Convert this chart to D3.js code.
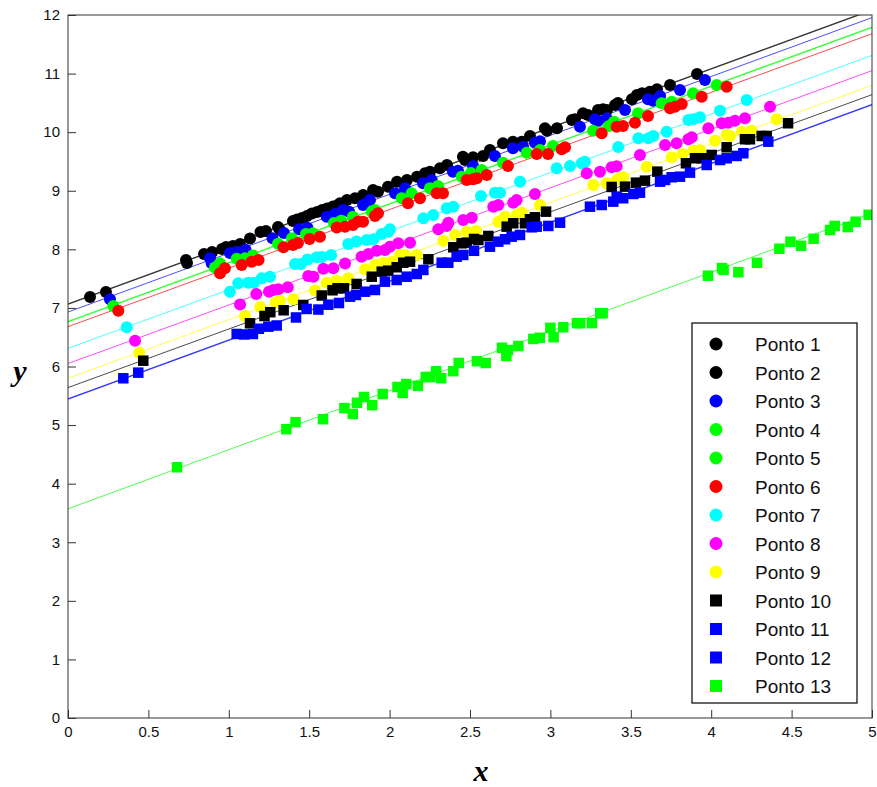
<!DOCTYPE html>
<html><head><meta charset="utf-8">
<script src="https://cdn.jsdelivr.net/npm/d3@7"></script>
<style>body{margin:0;background:#fff}svg{display:block}</style>
</head><body>
<svg id="c" width="877" height="787"></svg>
<script>
// ---- data ----
const seriesNames = ["Ponto 1","Ponto 2","Ponto 3","Ponto 4","Ponto 5","Ponto 6","Ponto 7","Ponto 8","Ponto 9","Ponto 10","Ponto 11","Ponto 12","Ponto 13"];
const seriesColors = ["#000000","#000000","#0000ff","#00ff00","#00ff00","#ff0000","#00ffff","#ff00ff","#ffff00","#000000","#0000ff","#0000ff","#00ff00"];
const seriesShapes = ["circle","circle","circle","circle","circle","circle","circle","circle","circle","square","square","square","square"];
const lineIntercepts = [7.07,7.06,6.93,6.77,6.76,6.68,6.31,6.05,5.80,5.64,5.45,5.44,3.57];
const lineSlopes = [1.004,1.004,1.005,1.005,1.005,1.0,1.0,1.0,1.0,1.0,1.005,1.005,1.01];

const p1x=[0.137,0.734,0.846,0.958,1.026,1.132,1.231,1.318,1.424,1.486,1.549,1.611,1.679,1.735,1.835,1.928,2.046,2.170,2.251,2.357,2.469,2.581,2.705,2.822,2.966,3.041,3.153,3.234,3.327,3.402,3.507,3.570,3.663,3.912];
const p1y=[7.187,7.818,7.921,8.006,8.057,8.185,8.313,8.330,8.510,8.569,8.638,8.698,8.757,8.843,8.928,8.984,9.155,9.240,9.326,9.440,9.525,9.594,9.811,9.838,10.067,10.067,10.220,10.294,10.391,10.465,10.562,10.664,10.732,10.994];
const p2x=[0.236,0.740,0.896,0.983,1.070,1.197,1.306,1.399,1.455,1.517,1.580,1.648,1.692,1.785,1.897,1.990,2.108,2.220,2.313,2.456,2.519,2.624,2.767,2.873,2.979,3.134,3.203,3.296,3.352,3.420,3.538,3.619,3.744];
const p2y=[7.272,7.767,7.955,8.040,8.091,8.296,8.382,8.484,8.535,8.612,8.672,8.732,8.786,8.872,9.013,9.070,9.184,9.298,9.384,9.582,9.572,9.696,9.838,9.935,10.026,10.208,10.323,10.379,10.379,10.498,10.635,10.692,10.806];
const p3x=[0.261,0.883,0.894,1.007,1.051,1.104,1.272,1.343,1.437,1.489,1.609,1.660,1.710,1.748,1.835,1.878,2.034,2.096,2.208,2.262,2.394,2.425,2.519,2.655,2.767,2.830,2.904,2.935,3.184,3.277,3.296,3.350,3.464,3.607,3.638,3.682,3.806,3.961];
const p3y=[7.147,7.847,7.762,7.938,7.960,7.994,8.189,8.279,8.342,8.368,8.558,8.604,8.672,8.643,8.758,8.843,8.957,9.042,9.128,9.184,9.326,9.343,9.423,9.594,9.725,9.753,9.821,9.845,10.094,10.220,10.196,10.237,10.379,10.562,10.538,10.618,10.720,10.891];
const p4x=[0.282,0.945,1.101,1.306,1.480,1.654,1.772,1.909,2.137,2.301,2.506,2.705,2.935,3.265,3.396,3.692,3.887];
const p4y=[7.033,7.762,7.847,8.097,8.262,8.450,8.558,8.672,8.957,9.082,9.303,9.479,9.696,10.026,10.179,10.493,10.664];
const p5x=[0.914,1.049,1.150,1.393,1.524,1.698,1.889,2.075,2.251,2.448,2.573,2.853,3.016,3.364,3.545,3.754,4.034];
const p5y=[7.690,7.839,7.895,8.189,8.274,8.489,8.643,8.872,9.042,9.240,9.355,9.650,9.765,10.106,10.323,10.521,10.806];
const p6x=[0.313,0.945,0.976,1.080,1.142,1.185,1.340,1.399,1.430,1.502,1.567,1.671,1.723,1.772,1.803,1.835,1.909,1.928,2.114,2.189,2.293,2.332,2.479,2.519,2.542,2.604,2.736,2.915,2.985,3.070,3.091,3.319,3.412,3.451,3.526,3.607,3.744,3.775,3.817,3.941,4.096];
const p6y=[6.953,7.591,7.677,7.733,7.789,7.818,8.035,8.074,8.109,8.177,8.216,8.373,8.387,8.416,8.472,8.472,8.569,8.615,8.786,8.872,8.957,8.957,9.184,9.196,9.213,9.269,9.423,9.628,9.628,9.708,9.742,9.981,10.094,10.106,10.162,10.277,10.408,10.435,10.481,10.606,10.777];
const p7x=[0.365,1.007,1.059,1.121,1.157,1.205,1.256,1.412,1.449,1.489,1.547,1.578,1.636,1.743,1.794,1.858,1.899,1.951,1.992,2.002,2.210,2.272,2.355,2.396,2.568,2.655,2.687,2.811,3.039,3.122,3.195,3.215,3.422,3.547,3.609,3.640,3.723,3.858,3.889,3.930,4.055,4.221];
const p7y=[6.670,7.277,7.421,7.431,7.431,7.506,7.534,7.750,7.750,7.827,7.865,7.870,7.904,8.092,8.134,8.160,8.172,8.262,8.302,8.342,8.530,8.587,8.701,8.728,8.911,8.967,8.967,9.155,9.384,9.423,9.469,9.497,9.747,9.896,9.896,9.935,10.009,10.208,10.220,10.254,10.367,10.550];
const p8x=[0.417,1.070,1.171,1.250,1.277,1.308,1.367,1.494,1.526,1.588,1.650,1.723,1.826,1.868,1.920,1.971,2.002,2.054,2.127,2.303,2.355,2.365,2.458,2.511,2.645,2.676,2.769,2.790,2.904,3.226,3.308,3.381,3.412,3.557,3.713,3.785,3.858,3.879,3.982,4.065,4.106,4.148,4.210,4.366];
const p8y=[6.441,7.059,7.238,7.277,7.306,7.318,7.352,7.545,7.533,7.668,7.677,7.759,7.875,7.921,7.977,7.989,8.045,8.103,8.114,8.342,8.399,8.455,8.501,8.539,8.728,8.757,8.797,8.843,8.945,9.298,9.326,9.401,9.418,9.611,9.782,9.810,9.879,9.913,10.067,10.152,10.162,10.196,10.237,10.435];
const p9x=[0.443,1.101,1.196,1.292,1.318,1.401,1.536,1.609,1.671,1.743,1.847,1.909,1.961,2.013,2.065,2.096,2.169,2.334,2.407,2.479,2.537,2.676,2.718,2.790,2.822,2.935,3.267,3.350,3.412,3.433,3.453,3.599,3.754,3.823,3.889,3.930,4.024,4.096,4.117,4.190,4.252,4.407];
const p9y=[6.236,6.862,7.016,7.093,7.124,7.147,7.298,7.431,7.469,7.506,7.660,7.733,7.772,7.789,7.904,7.904,7.904,8.148,8.245,8.302,8.317,8.472,8.558,8.587,8.626,8.757,9.099,9.128,9.184,9.213,9.230,9.411,9.572,9.628,9.684,9.696,9.855,9.952,9.935,10.009,10.026,10.220];
const p10x=[0.468,1.132,1.222,1.258,1.341,1.463,1.578,1.645,1.676,1.716,1.795,1.889,1.951,1.992,2.044,2.085,2.127,2.241,2.396,2.448,2.479,2.525,2.552,2.614,2.728,2.769,2.842,2.873,2.904,2.973,3.381,3.464,3.532,3.588,3.665,3.843,3.899,3.941,4.003,4.096,4.210,4.241,4.314,4.345,4.478];
const p10y=[6.099,6.738,6.862,6.927,6.960,7.050,7.212,7.301,7.335,7.335,7.409,7.533,7.619,7.636,7.694,7.772,7.789,7.830,8.035,8.103,8.114,8.177,8.160,8.228,8.387,8.445,8.445,8.513,8.547,8.643,9.065,9.070,9.138,9.172,9.326,9.469,9.555,9.555,9.611,9.742,9.879,9.879,9.935,9.935,10.152];
const p11x=[0.344,1.049,1.150,1.246,1.418,1.557,1.685,1.791,1.909,2.044,2.169,2.324,2.417,2.525,2.676,2.759,2.884,2.987,3.246,3.391,3.453,3.557,3.713,3.806,3.972,4.096,4.200];
const p11y=[5.799,6.555,6.555,6.680,6.837,6.972,7.084,7.221,7.306,7.477,7.579,7.772,7.875,7.975,8.131,8.216,8.376,8.399,8.728,8.814,8.872,8.967,9.184,9.240,9.440,9.554,9.640];
const p12x=[0.437,1.095,1.187,1.298,1.484,1.619,1.754,1.847,1.971,2.106,2.210,2.365,2.458,2.624,2.718,2.811,2.915,3.060,3.319,3.412,3.516,3.682,3.754,3.868,4.055,4.158,4.355];
const p12y=[5.895,6.547,6.644,6.700,6.982,7.055,7.192,7.277,7.448,7.533,7.648,7.772,7.904,8.045,8.172,8.245,8.387,8.455,8.757,8.899,8.945,9.155,9.230,9.309,9.525,9.594,9.838];
const p13x=[0.678,1.358,1.415,1.586,1.719,1.771,1.797,1.841,1.892,1.957,2.049,2.081,2.104,2.176,2.225,2.254,2.289,2.321,2.396,2.430,2.543,2.598,2.699,2.726,2.736,2.801,2.894,2.934,3.000,3.020,3.080,3.165,3.185,3.258,3.310,3.325,3.980,4.067,4.077,4.169,4.285,4.424,4.493,4.559,4.637,4.739,4.768,4.849,4.898,4.979];
const p13y=[4.28,4.93,5.05,5.10,5.29,5.19,5.38,5.48,5.34,5.53,5.65,5.55,5.70,5.67,5.82,5.82,5.92,5.80,5.92,6.06,6.09,6.06,6.32,6.18,6.28,6.35,6.47,6.49,6.66,6.50,6.67,6.74,6.74,6.74,6.91,6.91,7.55,7.68,7.65,7.61,7.77,8.01,8.13,8.06,8.18,8.33,8.40,8.38,8.47,8.59];

const xTicks=[0,0.5,1,1.5,2,2.5,3,3.5,4,4.5,5];
const xTickLabels=["0","0.5","1","1.5","2","2.5","3","3.5","4","4.5","5"];
const yTicks=[0,1,2,3,4,5,6,7,8,9,10,11,12];
const yTickLabels=["0","1","2","3","4","5","6","7","8","9","10","11","12"];

const allX=[p1x,p2x,p3x,p4x,p5x,p6x,p7x,p8x,p9x,p10x,p11x,p12x,p13x];
const allY=[p1y,p2y,p3y,p4y,p5y,p6y,p7y,p8y,p9y,p10y,p11y,p12y,p13y];

// ---- layout ----
const L=68,R=872,T=15,B=718;
const svg=d3.select("#c");
const x=d3.scaleLinear().domain([0,5]).range([L,R]);
const y=d3.scaleLinear().domain([0,12]).range([B,T]);

svg.append("defs").append("clipPath").attr("id","clip")
  .append("rect").attr("x",L).attr("y",T).attr("width",R-L).attr("height",B-T);

const font="'Liberation Sans', Arial, sans-serif";

// fitted lines
const gl=svg.append("g").attr("clip-path","url(#clip)");
seriesNames.forEach((n,i)=>{
  gl.append("line")
    .attr("x1",x(0)).attr("y1",y(lineIntercepts[i]))
    .attr("x2",x(5)).attr("y2",y(lineIntercepts[i]+lineSlopes[i]*5))
    .attr("stroke",seriesColors[i]).attr("stroke-width",1).attr("stroke-opacity",0.7);
});

// points
const gp=svg.append("g").attr("clip-path","url(#clip)");
seriesNames.forEach((n,i)=>{
  const pts=allX[i].map((v,k)=>[v,allY[i][k]]);
  if(seriesShapes[i]==="circle"){
    gp.selectAll(null).data(pts).enter().append("circle")
      .attr("cx",d=>x(d[0])).attr("cy",d=>y(d[1])).attr("r",6)
      .attr("fill",seriesColors[i]);
  } else {
    const s=10.5;
    gp.selectAll(null).data(pts).enter().append("rect")
      .attr("x",d=>x(d[0])-s/2).attr("y",d=>y(d[1])-s/2).attr("width",s).attr("height",s)
      .attr("fill",seriesColors[i]);
  }
});

// axes
const xa=d3.axisBottom(x).tickValues(xTicks).tickFormat((d,i)=>xTickLabels[i]).tickSizeInner(-8).tickSizeOuter(0).tickPadding(8);
const ya=d3.axisLeft(y).tickValues(yTicks).tickFormat((d,i)=>yTickLabels[i]).tickSizeInner(-8).tickSizeOuter(0).tickPadding(8);
const gx=svg.append("g").attr("transform",`translate(0,${B})`).call(xa);
const gy=svg.append("g").attr("transform",`translate(${L},0)`).call(ya);
[gx,gy].forEach(g=>{
  g.select(".domain").remove();
  g.selectAll(".tick line").attr("stroke","#333");
  g.selectAll("text").attr("font-family",font).attr("font-size",15).attr("fill","#111");
});
// frame
svg.append("rect").attr("x",L).attr("y",T).attr("width",R-L).attr("height",B-T)
  .attr("fill","none").attr("stroke","#333").attr("stroke-width",1);

// axis labels
svg.append("text").attr("x",481).attr("y",781).attr("text-anchor","middle")
  .attr("font-family","'Liberation Serif','DejaVu Serif',serif").attr("font-style","italic").attr("font-weight","bold")
  .attr("font-size",30).text("x");
svg.append("text").attr("x",20).attr("y",381).attr("text-anchor","middle")
  .attr("font-family","'Liberation Serif','DejaVu Serif',serif").attr("font-style","italic").attr("font-weight","bold")
  .attr("font-size",30).text("y");

// legend
const lg=svg.append("g");
lg.append("rect").attr("x",692).attr("y",323).attr("width",165).attr("height",380)
  .attr("fill","#fff").attr("stroke","#000").attr("stroke-width",1.2);
seriesNames.forEach((n,i)=>{
  const cy=344+i*28.5;
  if(seriesShapes[i]==="circle"){
    lg.append("circle").attr("cx",716).attr("cy",cy).attr("r",6.5).attr("fill",seriesColors[i]);
  } else {
    lg.append("rect").attr("x",710).attr("y",cy-6).attr("width",12).attr("height",12).attr("fill",seriesColors[i]);
  }
  lg.append("text").attr("x",755).attr("y",cy+7).attr("font-family",font).attr("font-size",19)
    .attr("fill","#111").text(n);
});
</script>
</body></html>
